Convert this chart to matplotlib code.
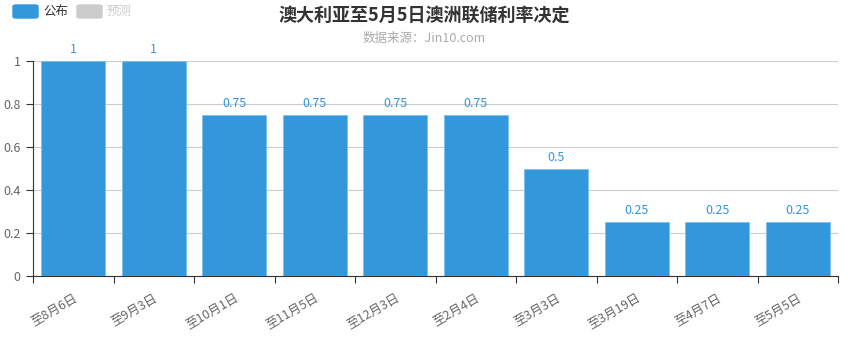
import matplotlib
matplotlib.use('Agg')
import matplotlib.pyplot as plt
from matplotlib.patches import FancyBboxPatch

plt.rcParams['font.family'] = ['Noto Sans CJK SC', 'DejaVu Sans']

# data
categories = ['至8月6日', '至9月3日', '至10月1日', '至11月5日', '至12月3日',
              '至2月4日', '至3月3日', '至3月19日', '至4月7日', '至5月5日']
published = [1, 1, 0.75, 0.75, 0.75, 0.75, 0.5, 0.25, 0.25, 0.25]
value_labels = ['1', '1', '0.75', '0.75', '0.75', '0.75', '0.5', '0.25', '0.25', '0.25']
yticks = [0, 0.2, 0.4, 0.6, 0.8, 1]
ytick_labels = ['0', '0.2', '0.4', '0.6', '0.8', '1']

blue = '#3398DB'

fig = plt.figure(figsize=(8.48, 3.42), dpi=100)
ax = fig.add_axes([33 / 848, 1 - 276 / 342, 805 / 848, 215 / 342])

x = list(range(len(categories)))
bars = ax.bar(x, published, width=0.8, color=blue, edgecolor='#7fc0ee',
              linewidth=0.6, zorder=3)
for b, lab in zip(bars, value_labels):
    ax.annotate(lab, (b.get_x() + b.get_width() / 2, b.get_height()),
                xytext=(0, 3.5), textcoords='offset points',
                ha='center', va='bottom', color=blue, fontsize=9)

ax.set_xlim(-0.5, len(categories) - 0.5)
ax.set_ylim(0, 1)
ax.set_yticks(yticks)
ax.set_yticklabels(ytick_labels)
ax.yaxis.grid(True, color='#cccccc', linewidth=0.8, zorder=0)
ax.set_axisbelow(True)

# category boundary ticks
ax.set_xticks([i - 0.5 for i in range(len(categories) + 1)])
ax.set_xticklabels([])
ax.set_xticks(x, minor=True)
ax.set_xticklabels(categories, minor=True, rotation=30, ha='right',
                   va='top', rotation_mode='anchor', color='#666666', fontsize=9)
ax.tick_params(axis='x', which='minor', length=0, pad=11)
ax.tick_params(axis='x', which='major', length=5, color='#333333')
ax.tick_params(axis='y', length=5, color='#333333', labelcolor='#666666',
               labelsize=9, pad=4)

for s in ['top', 'right']:
    ax.spines[s].set_visible(False)
ax.spines['left'].set_color('#333333')
ax.spines['bottom'].set_color('#333333')

# title
fig.text(0.5, 1 - 15 / 342, '澳大利亚至5月5日澳洲联储利率决定', ha='center',
         va='center', fontsize=13, fontweight='bold', color='#333333')
fig.text(0.5, 1 - 38 / 342, '数据来源：Jin10.com', ha='center', va='center',
         fontsize=9, color='#aaaaaa')

# legend
fig.patches.append(FancyBboxPatch((13 / 848, 1 - 18 / 342), 25 / 848, 13 / 342,
                                  boxstyle='round,pad=0,rounding_size=0.004',
                                  transform=fig.transFigure, color=blue))
fig.text(43 / 848, 1 - 11.5 / 342, '公布', va='center', fontsize=9, color='#333333')
fig.patches.append(FancyBboxPatch((77 / 848, 1 - 18 / 342), 25 / 848, 13 / 342,
                                  boxstyle='round,pad=0,rounding_size=0.004',
                                  transform=fig.transFigure, color='#cccccc'))
fig.text(107 / 848, 1 - 11.5 / 342, '预测', va='center', fontsize=9, color='#cccccc')

fig.savefig('out.png', dpi=100)
